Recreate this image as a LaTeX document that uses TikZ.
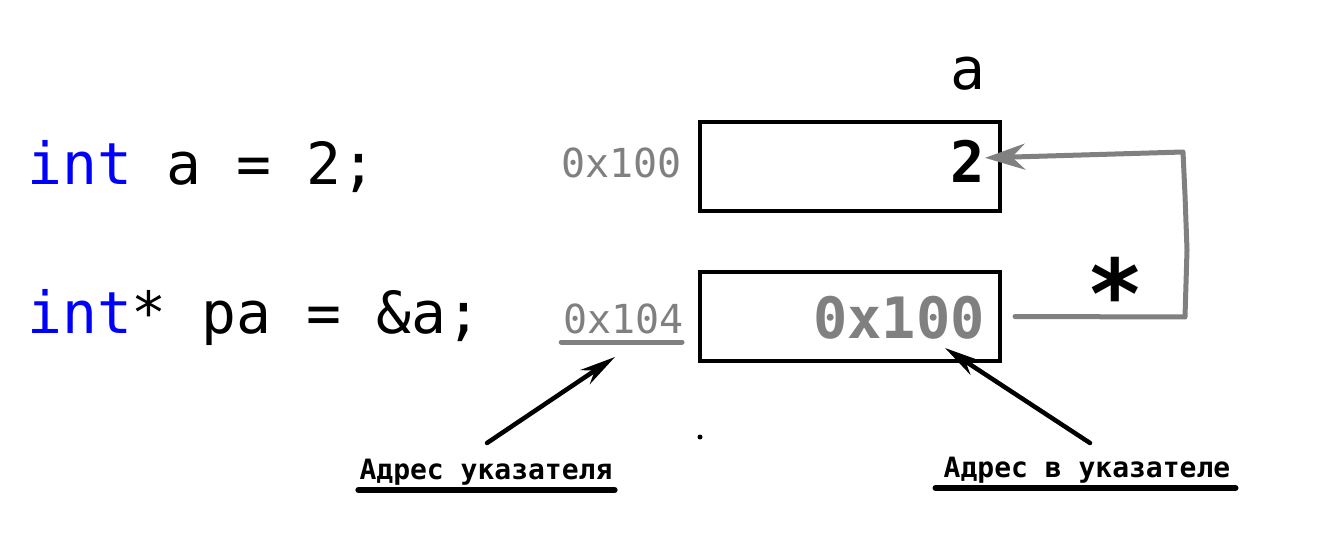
\documentclass[tikz,border=0pt]{standalone}
\usepackage{fontspec}
\setmonofont{DejaVu Sans Mono}
\usepackage{xcolor}
\usetikzlibrary{arrows.meta}
\usetikzlibrary{calc}
\definecolor{addrgray}{RGB}{128,128,128}
\definecolor{kwblue}{RGB}{0,0,255}

\begin{document}
\begin{tikzpicture}[
  x=1pt, y=-1pt,
  code/.style={font=\ttfamily\fontsize{58}{58}\selectfont, inner sep=0pt, anchor=base west},
  cell/.style={draw, line width=4pt, minimum width=300pt, minimum height=89pt, inner sep=0pt},
  val/.style={font=\ttfamily\bfseries\fontsize{57}{57}\selectfont, inner sep=0pt, anchor=base east},
  addr/.style={font=\ttfamily\fontsize{40}{40}\selectfont, text=addrgray, inner sep=0pt, anchor=base east},
  note/.style={font=\ttfamily\bfseries\fontsize{28}{28}\selectfont, inner sep=0pt, anchor=base},
  ptrarrow/.style={-{Stealth[length=40pt, width=26pt]}, line width=5pt, draw=addrgray, line cap=round, line join=round},
  arrow/.style={-{Stealth[length=36pt, width=17pt]}, line width=4.5pt, line cap=round},
  uline/.style={line width=6pt, line cap=round}
]
\useasboundingbox (0,0) rectangle (1341,537);

\node[code] (declA) at (27,185) {{\color{kwblue}int} a = 2;};
\node[code] (declPa) at (27,333) {{\color{kwblue}int}* pa = \&a;};

\node[cell] (cellA) at (850,166.5) {};
\node[cell] (cellPa) at (850,316.5) {};
\node[code, anchor=base] (nameA) at (968,90) {a};

\node[val] (valA) at (985,183) {2};
\node[val, text=addrgray] (valPa) at (985,338) {0x100};

\node[addr] (addrA) at (682,178) {0x100};
\node[addr] (addrPa) at (684,333) {0x104};
\draw[uline, draw=addrgray, line width=5pt] ($(addrPa.base west)+(-2,9)$) -- ($(addrPa.base east)+(-2,9)$);

% pointer dereference
\coordinate (bendLow) at (1185,317);
\coordinate (bendHigh) at (1183,152);
\draw[ptrarrow] ([xshift=13pt]cellPa.east) -- (bendLow) -- (1187,250) -- (1185,195) -- (bendHigh)
  -- ($(valA.east)+(0,-4)$);
\node[font=\ttfamily\bfseries\fontsize{96}{96}\selectfont, inner sep=0pt] (deref) at (1115,293) {*};

\node[note] (lblOwn) at (486,479) {Адрес указателя};
\node[note] (lblHeld) at (1087,477) {Адрес в указателе};
\draw[uline] ($(lblOwn.base west)+(-1,11)$) -- ($(lblOwn.base east)+(2,11)$);
\draw[uline] ($(lblHeld.base west)+(-8,11)$) -- ($(lblHeld.base east)+(5,11)$);

\coordinate (tipOwn) at (615,357);
\coordinate (tipHeld) at (945,348);
\draw[arrow] ($(lblOwn.base)+(1,-36)$) -- (tipOwn);
\draw[arrow] ($(lblHeld.base)+(3,-34)$) -- (tipHeld);

\fill (700,437) circle (2.5pt);

\end{tikzpicture}
\end{document}
